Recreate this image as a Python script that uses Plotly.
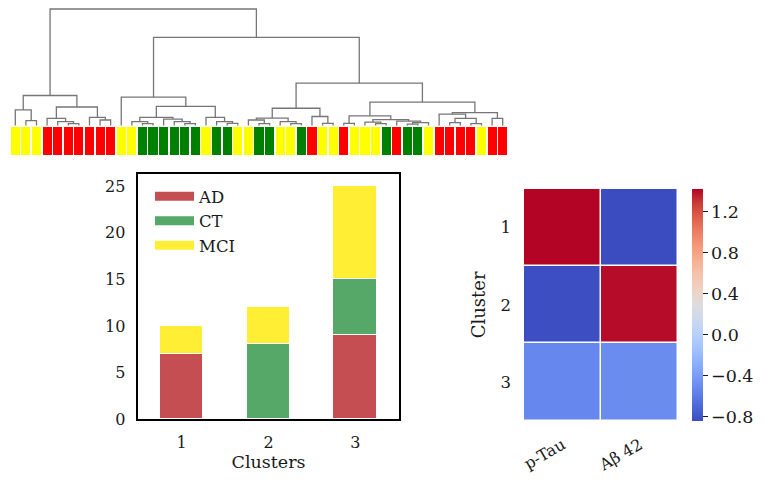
import plotly.graph_objects as go

# ---------------- data ----------------
# dendrogram leaves, left to right (diagnosis of each subject)
leaf_codes = "YYYRRRRRRRYYGGGGGGYGGYYGGYYGRYYRYYYGRGGYRRRRYRR"
code_to_group = {"R": "AD", "G": "CT", "Y": "MCI"}
leaf_groups = [code_to_group[c] for c in leaf_codes]

# hierarchical tree: [merge height, left, right]; ints are leaf positions (1-based)
cluster1_tree = [30.7, [16, 1, [5, 2, 3]],
                 [19, [7.3, 4, [4, 5, [2, 6, 7]]], [8.3, 8, [5.7, 9, 10]]]]
cluster2_tree = [29, 11,
                 [19.7,
                  [8.3, [4, 12, [2, 13, 14]], [6.7, 15, [4, 16, [2, 17, 18]]]],
                  [8.3, 19, [4, 20, [2.3, 21, 22]]]]]
cluster3_tree = [43.3,
                 [17.7, [7.7, [5.7, 23, [2, 24, 25]], [4, 26, [2, 27, 28]]],
                  [9.3, 29, [2.3, 30, 31]]],
                 [24,
                  [10, [2.3, 32, 33],
                   [6, [3.5, 34, [2, 35, 36]], [4.5, 37, [3, [1.5, 38, 39], 40]]]],
                  [13.3, [11.7, 41, [7.3, [3, 42, 43], [2, 44, 45]]], [7.3, 46, 47]]]]
tree = [119, cluster1_tree, [90, cluster2_tree, cluster3_tree]]

# stacked bar chart
clusters = ["1", "2", "3"]
ad_counts = [7, 0, 9]
ct_counts = [0, 8, 6]
mci_counts = [3, 4, 10]

# heatmap
features = ["p-Tau", "A\u03b2 42"]
heat_rows = ["1", "2", "3"]
heat_values = [[1.42, -0.84],
               [-0.83, 1.40],
               [-0.53, -0.50]]

# ---------------- styles ----------------
OFF = 8                      # browser body margin
W, H = 765 - 2 * OFF, 488 - 2 * OFF
FONT = "DejaVu Serif"
TXT = "#1a1a1a"
strip_colors = {"AD": "#ff0000", "CT": "#008000", "MCI": "#ffff00"}
bar_colors = {"AD": "#c44e52", "CT": "#55a868", "MCI": "#ffee33"}
coolwarm = [
    [0.0, "rgb(59,76,192)"], [0.0625, "rgb(77,104,215)"], [0.125, "rgb(98,130,234)"],
    [0.1875, "rgb(119,154,247)"], [0.25, "rgb(141,176,254)"], [0.3125, "rgb(163,194,255)"],
    [0.375, "rgb(184,208,249)"], [0.4375, "rgb(204,217,238)"], [0.5, "rgb(221,221,221)"],
    [0.5625, "rgb(236,211,197)"], [0.625, "rgb(245,196,173)"], [0.6875, "rgb(247,177,148)"],
    [0.75, "rgb(244,154,123)"], [0.8125, "rgb(236,127,99)"], [0.875, "rgb(222,96,77)"],
    [0.9375, "rgb(203,62,56)"], [1.0, "rgb(180,4,38)"]]

STRIP_TOP, STRIP_BOTTOM = -1, -30


def px_x(a, b):
    return [max(0.0, (a - OFF) / W), min(1.0, (b - OFF) / W)]


def px_y(top, bottom):
    return [max(0.0, 1 - (bottom - OFF) / H), min(1.0, 1 - (top - OFF) / H)]


# ---------------- dendrogram geometry from the tree ----------------
seg_x, seg_y = [], []


def walk(node):
    if isinstance(node, int):
        return float(node), 0.0
    h, left, right = node
    xl, hl = walk(left)
    xr, hr = walk(right)
    seg_x.extend([xl, xl, xr, xr, None])
    seg_y.extend([hl, h, h, hr, None])
    return (xl + xr) / 2, h


walk(tree)
leaf_pos = list(range(1, len(leaf_groups) + 1))

fig = go.Figure()

fig.add_trace(go.Scatter(x=seg_x, y=seg_y, mode="lines",
                         line=dict(color="#767676", width=1.3),
                         showlegend=False, hoverinfo="skip", xaxis="x", yaxis="y"))
fig.add_trace(go.Bar(x=leaf_pos, y=[STRIP_TOP - STRIP_BOTTOM] * len(leaf_pos),
                     base=[STRIP_BOTTOM] * len(leaf_pos), width=0.86,
                     marker=dict(color=[strip_colors[g] for g in leaf_groups], line=dict(width=0)),
                     showlegend=False, xaxis="x", yaxis="y"))

# stacked bars
for name, vals in (("AD", ad_counts), ("CT", ct_counts), ("MCI", mci_counts)):
    fig.add_trace(go.Bar(x=[1, 2, 3], y=vals, width=0.5, name=name,
                         marker=dict(color=bar_colors[name], line=dict(color="white", width=1)),
                         showlegend=False, xaxis="x2", yaxis="y2"))
    fig.add_trace(go.Scatter(x=[None], y=[None], mode="lines", name=name,
                             line=dict(color=bar_colors[name], width=9),
                             legendgroup=name, xaxis="x2", yaxis="y2"))

# heatmap
cb_top, cb_bottom = 189, 420.7
fig.add_trace(go.Heatmap(z=heat_values, x=features, y=heat_rows, colorscale=coolwarm,
                         xgap=1.5, ygap=1.5, xaxis="x3", yaxis="y3",
                         colorbar=dict(x=(692 - OFF) / W, xanchor="left", xpad=0, ypad=0,
                                       y=1 - ((cb_top + cb_bottom) / 2 - OFF) / H, yanchor="middle",
                                       len=(cb_bottom - cb_top) / H, lenmode="fraction",
                                       thickness=11, outlinewidth=0,
                                       tick0=0, dtick=0.4, tickformat=".1f",
                                       ticks="outside", ticklen=5, tickcolor=TXT,
                                       tickfont=dict(family=FONT, size=17.5, color=TXT))))

fig.update_layout(
    width=W, height=H, template="none",
    margin=dict(l=0, r=0, t=0, b=0),
    paper_bgcolor="white", plot_bgcolor="white",
    font=dict(family=FONT, size=16, color=TXT),
    barmode="stack", bargap=0,
    showlegend=True,
    legend=dict(x=(150 - OFF) / W, y=1 - (179 - OFF) / H, xanchor="left", yanchor="top",
                bgcolor="rgba(0,0,0,0)", traceorder="normal", tracegroupgap=1, itemwidth=39,
                font=dict(family=FONT, size=16.5, color=TXT)),
    xaxis=dict(domain=px_x(10, 508), range=[0.5, 47.5], visible=False, anchor="y"),
    yaxis=dict(domain=px_y(8, 155), range=[STRIP_BOTTOM, 120], visible=False, anchor="x"),
    xaxis2=dict(domain=px_x(138.3, 398.7), range=[0.5, 3.5], anchor="y2",
                tickvals=[1, 2, 3], ticktext=clusters, ticks="", showgrid=False, zeroline=False,
                showline=True, mirror=True, linecolor="black", linewidth=1.5,
                ticklabelstandoff=8, automargin=False,
                title=dict(text="Clusters", font=dict(size=17.5), standoff=4)),
    yaxis2=dict(domain=px_y(174.3, 419.3), range=[0, 26.25], anchor="x2",
                tick0=0, dtick=5, ticks="", showgrid=False, zeroline=False,
                showline=True, mirror=True, linecolor="black", linewidth=1.5,
                ticklabelstandoff=8, automargin=False),
    xaxis3=dict(domain=px_x(524, 678.3), anchor="y3", tickangle=-30, ticks="",
                showgrid=False, zeroline=False, showline=False, ticklabelstandoff=11,
                tickfont=dict(size=16), automargin=False),
    yaxis3=dict(domain=px_y(189, 420.7), anchor="x3", type="category",
                autorange="reversed", ticks="",
                showgrid=False, zeroline=False, showline=False, ticklabelstandoff=12,
                tickfont=dict(size=16.5), automargin=False,
                title=dict(text="Cluster", font=dict(size=18), standoff=10)),
)

fig.write_html("out.html")
